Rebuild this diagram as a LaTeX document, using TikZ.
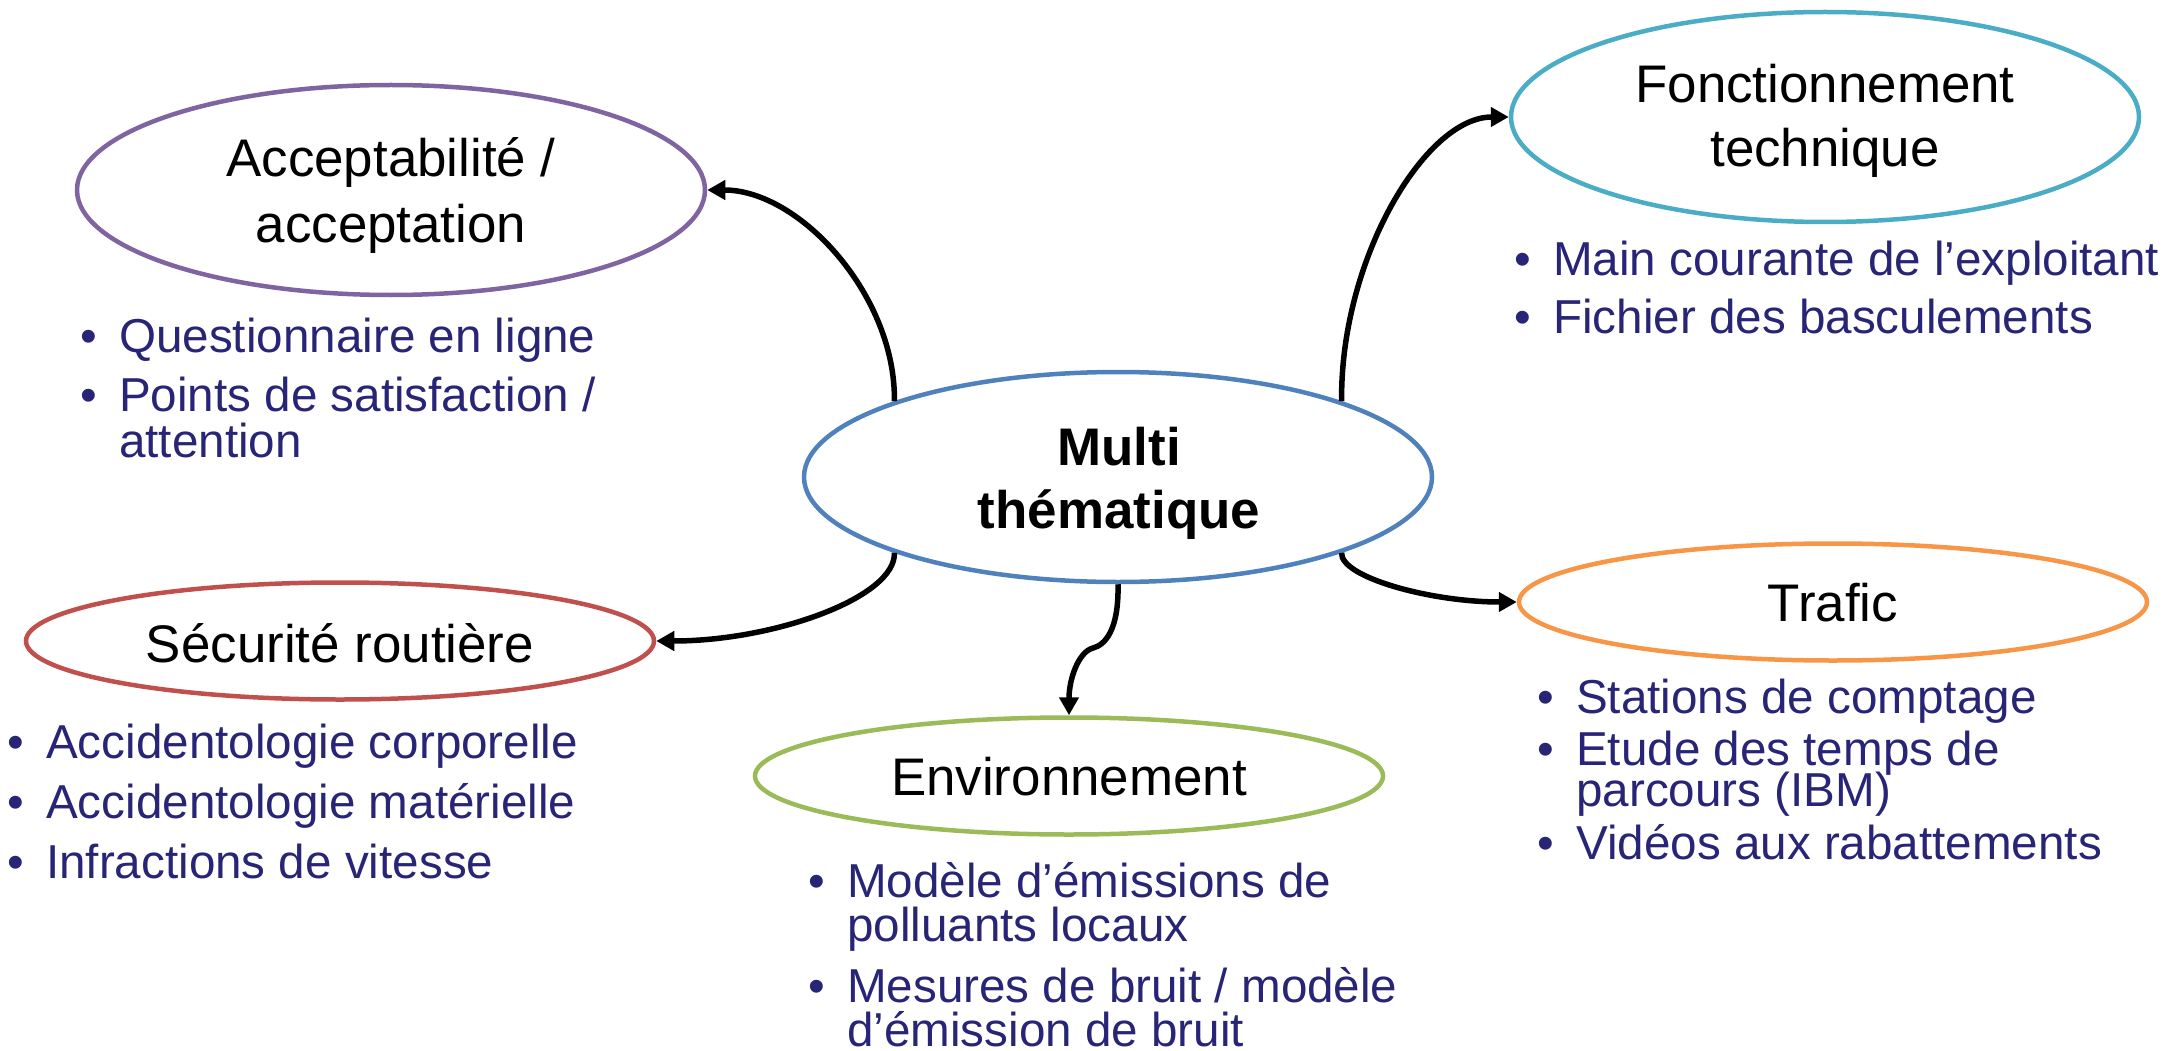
\documentclass[tikz,border=0pt]{standalone}
\usepackage{fontspec}
\setmainfont{Liberation Sans}
\usetikzlibrary{arrows.meta,shapes.geometric}
\definecolor{cacc}{RGB}{128,100,162}
\definecolor{cfonc}{RGB}{75,172,198}
\definecolor{cmulti}{RGB}{79,129,189}
\definecolor{csecu}{RGB}{192,80,77}
\definecolor{cenv}{RGB}{155,187,89}
\definecolor{ctraf}{RGB}{247,150,70}
\definecolor{ctxt}{RGB}{40,36,118}
\newcommand\labfont{\fontsize{52.9pt}{63pt}\selectfont}
\newcommand\bulfont{\fontsize{47.6pt}{57pt}\selectfont}
\newcommand\bitem{\llap{\textbullet\hspace{22.5pt}}}
\begin{document}
\begin{tikzpicture}[x=1pt,y=-1pt,
  bigell/.style={ellipse, draw=#1, line width=4.5pt, minimum width=628pt, minimum height=210pt, inner sep=0pt},
  smallell/.style={ellipse, draw=#1, line width=4.5pt, minimum width=628pt, minimum height=117pt, inner sep=0pt},
  lbl/.style={anchor=base, inner sep=0pt, font=\labfont, text=black},
  bul/.style={anchor=base west, inner sep=0pt, font=\bulfont, text=ctxt},
  conn/.style={draw=black, line width=5.5pt, -{Triangle[length=18pt,width=19pt]}}
]
\useasboundingbox (0,0) rectangle (2179,1051);

% ellipses
\node[bigell=cacc] (acc) at (391,190) {};
\node[bigell=cfonc] (fonc) at (1825,117) {};
\node[bigell=cmulti] (multi) at (1118,477) {};
\node[smallell=csecu] (secu) at (340,641) {};
\node[smallell=cenv] (env) at (1069,776) {};
\node[smallell=ctraf] (traf) at (1833,602) {};

% labels
\node[lbl] (accL1) at (391,177) {Acceptabilité /};
\node[lbl] (accL2) at (391,242) {acceptation};
\node[lbl] (foncL1) at (1825,103) {Fonctionnement};
\node[lbl] (foncL2) at (1825,167) {technique};
\node[lbl,font=\labfont\bfseries] (multiL1) at (1119,465) {Multi};
\node[lbl,font=\labfont\bfseries] (multiL2) at (1119,528) {thématique};
\node[lbl] (secuL) at (340,662) {Sécurité routière};
\node[lbl] (envL) at (1069,795) {Environnement};
\node[lbl] (trafL) at (1833,621) {Trafic};

% bullet lists
\node[bul] (a1) at (119,352) {\bitem Questionnaire en ligne};
\node[bul] (a2) at (119,411) {\bitem Points de satisfaction /};
\node[bul] (a3) at (119,457) {attention};

\node[bul] (f1) at (1553,275) {\bitem Main courante de l’exploitant};
\node[bul] (f2) at (1553,333) {\bitem Fichier des basculements};

\node[bul] (s1) at (46,758) {\bitem Accidentologie corporelle};
\node[bul] (s2) at (46,818) {\bitem Accidentologie matérielle};
\node[bul] (s3) at (46,878) {\bitem Infractions de vitesse};

\node[bul] (e1) at (847,897) {\bitem Modèle d’émissions de};
\node[bul] (e2) at (847,941) {polluants locaux};
\node[bul] (e3) at (847,1002) {\bitem Mesures de bruit / modèle};
\node[bul] (e4) at (847,1046) {d’émission de bruit};

\node[bul] (t1) at (1576,713) {\bitem Stations de comptage};
\node[bul] (t2) at (1576,765) {\bitem Etude des temps de};
\node[bul] (t3) at (1576,806) {parcours (IBM)};
\node[bul] (t4) at (1576,859) {\bitem Vidéos aux rabattements};

% connectors
\draw[conn] (multi.north west) .. controls (896,296) and (800,190) .. (acc.east);
\draw[conn] (multi.north east) .. controls (1340,260) and (1425,117) .. (fonc.west);
\draw[conn] (multi.south west) .. controls (896,597) and (775,641) .. (secu.east);
\draw[conn] (multi.south east) .. controls (1340,577) and (1430,602) .. (traf.west);
\coordinate (envk) at (1093,648);
\draw[conn] (multi.south) .. controls (1119,630) and (1105,645) .. (envk)
  .. controls (1078,652) and (1069,680) .. (env.north);
\end{tikzpicture}
\end{document}
